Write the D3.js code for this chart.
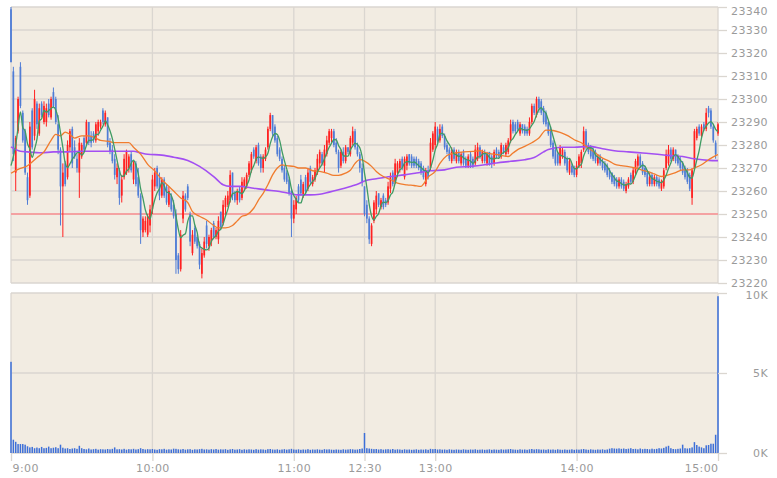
<!DOCTYPE html>
<html>
<head>
<meta charset="utf-8">
<script src="https://cdn.jsdelivr.net/npm/d3@7"></script>
<style>
  html, body { margin: 0; padding: 0; background: #ffffff; }
  svg { display: block; }
</style>
</head>
<body>
<svg id="chart" width="777" height="478"></svg>
<script>
// ---- Session axis (minute index: 9:00-11:30 = 0-150, 12:30-15:00 = 150-300) ----
const sessionTicks  = [0, 60, 120, 150, 180, 240, 300];
const sessionLabels = ["9:00", "10:00", "11:00", "12:30", "13:00", "14:00", "15:00"];

// ---- Price / volume ticks ----
const priceTicks  = [23220, 23230, 23240, 23250, 23260, 23270, 23280, 23290, 23300, 23310, 23320, 23330, 23340];
const volumeTicks = [0, 5000, 10000];
const volumeTickLabels = ["0K", "5K", "10K"];

// Previous session close (reference line)
const prevClose = 23250;
// Last closes of the previous session (seed for the 5-bar average)
const priorCloses = [23256, 23258, 23262, 23263];

// ---- One-minute bars: [open, high, low, close] ----
const candles = [
  [23339,23340,23316,23316],[23312,23314,23273,23276],[23268,23284,23260,23283],[23286,23301,23285,23300],[23314,23316,23296,23297],[23294,23295,23281,23282],[23286,23287,23267,23268],[23266,23268,23254,23256],[23258,23290,23257,23288],[23295,23296,23278,23279],
  [23284,23304,23282,23300],[23298,23299,23287,23289],[23285,23298,23284,23296],[23298,23299,23292,23293],[23290,23299,23289,23297],[23290,23298,23288,23296],[23298,23300,23292,23293],[23292,23301,23291,23300],[23303,23305,23296,23297],[23300,23301,23289,23290],
  [23289,23293,23276,23278],[23278,23279,23245,23262],[23262,23272,23240,23268],[23272,23273,23262,23263],[23266,23282,23265,23280],[23279,23287,23277,23286],[23287,23288,23270,23272],[23279,23282,23274,23275],[23274,23276,23268,23270],[23268,23283,23257,23281],
  [23275,23281,23274,23280],[23283,23284,23277,23278],[23281,23291,23280,23290],[23290,23290,23280,23281],[23284,23286,23279,23281],[23285,23286,23281,23282],[23282,23290,23281,23289],[23286,23291,23284,23290],[23288,23291,23287,23290],[23295,23296,23289,23290],
  [23289,23295,23288,23294],[23292,23292,23279,23280],[23281,23283,23276,23277],[23278,23280,23272,23273],[23274,23276,23265,23267],[23266,23272,23263,23270],[23269,23270,23254,23257],[23258,23267,23255,23265],[23266,23276,23265,23274],[23268,23278,23267,23277],
  [23270,23276,23268,23275],[23276,23277,23268,23269],[23265,23273,23263,23272],[23272,23273,23262,23263],[23266,23270,23257,23258],[23258,23259,23237,23243],[23242,23249,23240,23248],[23243,23249,23242,23247],[23241,23250,23240,23249],[23245,23254,23242,23252],
  [23252,23267,23250,23265],[23262,23270,23260,23268],[23270,23271,23261,23262],[23266,23268,23256,23258],[23258,23266,23257,23265],[23265,23266,23257,23258],[23262,23263,23254,23255],[23254,23262,23253,23260],[23258,23259,23251,23252],[23254,23256,23248,23249],
  [23250,23252,23224,23230],[23232,23233,23224,23226],[23226,23243,23225,23241],[23248,23260,23246,23258],[23258,23259,23251,23252],[23262,23263,23256,23257],[23250,23251,23236,23238],[23233,23243,23232,23241],[23244,23245,23237,23238],[23240,23241,23235,23236],
  [23237,23238,23226,23228],[23224,23235,23222,23233],[23232,23240,23231,23238],[23245,23247,23235,23237],[23236,23241,23234,23240],[23238,23244,23236,23243],[23246,23247,23239,23240],[23240,23244,23239,23243],[23239,23249,23237,23247],[23251,23251,23243,23244],
  [23246,23256,23245,23254],[23253,23258,23249,23257],[23254,23260,23253,23258],[23256,23269,23255,23267],[23268,23268,23256,23258],[23259,23260,23255,23256],[23256,23261,23254,23260],[23261,23262,23255,23256],[23257,23266,23256,23264],[23262,23266,23260,23265],
  [23262,23268,23261,23267],[23267,23273,23266,23272],[23269,23277,23268,23276],[23278,23279,23274,23275],[23273,23280,23272,23279],[23280,23281,23271,23272],[23275,23276,23268,23270],[23270,23276,23268,23275],[23274,23279,23273,23278],[23279,23288,23278,23287],
  [23287,23294,23286,23293],[23293,23293,23284,23285],[23288,23289,23281,23282],[23283,23284,23275,23276],[23278,23279,23273,23274],[23274,23275,23268,23269],[23270,23271,23264,23265],[23268,23269,23263,23264],[23265,23266,23258,23259],[23260,23261,23240,23248],
  [23248,23256,23246,23254],[23252,23258,23250,23257],[23262,23263,23255,23256],[23265,23267,23258,23259],[23258,23264,23257,23263],[23266,23267,23259,23260],[23261,23270,23260,23268],[23270,23271,23263,23264],[23263,23267,23262,23266],[23265,23270,23264,23269],
  [23268,23276,23267,23274],[23272,23278,23270,23277],[23276,23277,23271,23272],[23271,23280,23268,23278],[23276,23284,23275,23282],[23281,23287,23280,23286],[23283,23287,23281,23286],[23286,23287,23279,23280],[23281,23283,23276,23277],[23277,23278,23268,23270],
  [23271,23278,23270,23277],[23277,23279,23272,23273],[23273,23280,23272,23279],[23279,23279,23276,23277],[23276,23284,23275,23283],[23281,23288,23280,23286],[23286,23287,23278,23279],[23279,23281,23275,23276],[23276,23277,23268,23270],[23270,23272,23262,23264],
  [23262,23262,23249,23250],[23254,23256,23246,23248],[23248,23249,23237,23239],[23237,23246,23236,23245],[23247,23256,23246,23255],[23252,23260,23250,23258],[23259,23259,23253,23254],[23253,23257,23252,23256],[23258,23259,23252,23253],[23256,23257,23253,23254],
  [23255,23264,23254,23262],[23261,23268,23259,23266],[23268,23269,23262,23263],[23264,23274,23263,23272],[23268,23273,23266,23272],[23270,23274,23268,23273],[23274,23275,23269,23270],[23266,23275,23265,23274],[23271,23276,23269,23275],[23276,23276,23271,23272],
  [23275,23276,23270,23271],[23274,23275,23270,23271],[23274,23275,23270,23271],[23273,23274,23269,23270],[23272,23273,23267,23268],[23270,23271,23265,23266],[23263,23270,23262,23269],[23269,23271,23265,23266],[23270,23283,23269,23281],[23278,23286,23277,23285],
  [23280,23290,23278,23288],[23287,23288,23281,23282],[23282,23289,23281,23287],[23288,23289,23283,23284],[23284,23285,23278,23279],[23280,23281,23276,23277],[23278,23279,23273,23274],[23273,23279,23272,23277],[23278,23279,23273,23274],[23273,23278,23272,23277],
  [23277,23278,23272,23273],[23272,23277,23271,23276],[23277,23278,23271,23272],[23274,23275,23270,23271],[23271,23276,23270,23275],[23276,23277,23270,23271],[23274,23275,23270,23271],[23272,23280,23271,23278],[23274,23281,23273,23279],[23279,23280,23274,23275],
  [23273,23278,23272,23277],[23277,23278,23272,23273],[23272,23277,23271,23276],[23277,23277,23271,23272],[23275,23276,23270,23272],[23272,23278,23271,23277],[23278,23279,23274,23275],[23277,23278,23274,23275],[23275,23281,23274,23280],[23279,23280,23276,23277],
  [23276,23281,23275,23280],[23277,23283,23276,23282],[23282,23291,23281,23289],[23290,23291,23285,23286],[23289,23290,23285,23286],[23290,23291,23286,23287],[23285,23290,23284,23289],[23289,23289,23285,23286],[23288,23289,23284,23285],[23287,23288,23284,23285],
  [23285,23292,23284,23290],[23290,23298,23289,23297],[23297,23298,23293,23294],[23293,23301,23292,23300],[23300,23301,23294,23296],[23299,23300,23293,23294],[23296,23297,23289,23290],[23294,23295,23288,23289],[23290,23291,23284,23285],[23287,23288,23279,23280],
  [23281,23282,23274,23275],[23278,23279,23271,23272],[23276,23277,23271,23272],[23272,23280,23271,23279],[23275,23279,23274,23278],[23277,23278,23271,23272],[23274,23275,23268,23269],[23268,23274,23267,23273],[23271,23272,23267,23268],[23270,23271,23266,23267],
  [23267,23273,23266,23271],[23271,23276,23270,23275],[23272,23278,23270,23277],[23278,23288,23277,23286],[23286,23287,23278,23279],[23280,23281,23276,23277],[23279,23280,23274,23275],[23278,23279,23273,23274],[23277,23278,23272,23273],[23272,23276,23271,23275],
  [23275,23276,23271,23272],[23273,23274,23269,23270],[23272,23273,23268,23269],[23271,23272,23266,23267],[23269,23270,23265,23266],[23268,23268,23263,23264],[23266,23267,23262,23263],[23265,23266,23261,23262],[23262,23266,23261,23265],[23265,23266,23261,23262],
  [23264,23265,23260,23261],[23260,23264,23259,23263],[23262,23266,23261,23265],[23267,23268,23263,23264],[23264,23270,23263,23269],[23268,23274,23267,23273],[23271,23276,23270,23275],[23275,23276,23270,23271],[23272,23273,23267,23268],[23270,23271,23266,23267],
  [23268,23269,23262,23263],[23263,23268,23262,23266],[23267,23268,23262,23263],[23263,23267,23262,23266],[23266,23267,23262,23263],[23265,23266,23261,23262],[23261,23265,23260,23264],[23262,23270,23261,23269],[23270,23278,23269,23276],[23272,23280,23271,23278],
  [23278,23279,23273,23274],[23274,23279,23273,23278],[23278,23278,23272,23273],[23275,23276,23271,23272],[23274,23275,23269,23270],[23272,23273,23267,23268],[23270,23271,23265,23266],[23269,23270,23263,23264],[23267,23268,23260,23261],[23257,23270,23254,23269],
  [23270,23287,23269,23286],[23283,23288,23282,23287],[23288,23289,23284,23285],[23284,23289,23283,23288],[23289,23290,23286,23287],[23287,23296,23286,23294],[23296,23297,23292,23294],[23295,23296,23287,23288],[23288,23289,23281,23282],[23281,23282,23274,23276],
  [23285,23290,23284,23289]
];

// ---- Volume per bar ----
const volume = [
  5700, 830, 700, 560, 560, 560, 520, 420, 350, 380,
  300, 340, 300, 380, 300, 320, 400, 300, 330, 360,
  300, 520, 330, 280, 300, 250, 280, 300, 260, 450,
  300, 250, 230, 280, 220, 240, 260, 210, 240, 230,
  220, 250, 230, 260, 350, 230, 240, 220, 260, 210,
  240, 230, 260, 220, 240, 300, 250, 220, 240, 230,
  250, 220, 200, 240, 230, 260, 210, 230, 220, 270,
  260, 230, 220, 250, 210, 230, 240, 200, 230, 220,
  240, 260, 220, 230, 210, 240, 220, 250, 210, 230,
  220, 240, 200, 230, 250, 210, 220, 240, 200, 230,
  210, 230, 220, 200, 240, 210, 230, 220, 200, 240,
  250, 220, 210, 230, 200, 220, 240, 210, 230, 260,
  220, 210, 230, 200, 220, 210, 240, 200, 220, 210,
  230, 210, 200, 240, 220, 230, 210, 200, 220, 210,
  200, 230, 210, 220, 240, 230, 210, 220, 250, 280,
  1250, 300, 280, 260, 240, 250, 220, 240, 210, 230,
  240, 220, 250, 210, 230, 220, 200, 230, 210, 220,
  200, 210, 230, 200, 220, 210, 230, 200, 260, 240,
  250, 220, 230, 210, 220, 200, 230, 210, 200, 220,
  210, 200, 230, 210, 200, 220, 210, 230, 200, 210,
  220, 200, 210, 230, 200, 220, 210, 200, 230, 210,
  220, 230, 250, 220, 210, 200, 230, 210, 220, 200,
  230, 250, 220, 240, 230, 210, 220, 200, 230, 210,
  220, 200, 230, 210, 200, 220, 200, 210, 230, 200,
  220, 210, 230, 250, 220, 200, 230, 210, 200, 220,
  210, 230, 200, 220, 270, 300, 280, 270, 290, 260,
  280, 250, 270, 300, 250, 260, 230, 280, 240, 260,
  250, 230, 270, 240, 260, 300, 280, 320, 400, 450,
  300, 250, 240, 260, 280, 520, 300, 280, 300, 350,
  680, 500, 400, 350, 300, 480, 500, 580, 580, 1140,
  9800
];

// ---- 25-bar average (orange), sampled at bar indices ----
const ma25At = [0,3,7,11,14,17,19,21,23,25,27,30,33,36,38,41,44,47,50,52,55,58,61,64,67,69,72,75,77,80,83,86,88,91,94,96,98,100,103,105,107,109,111,113,115,117,120,122,125,128,131,134,137,139,142,144,146,148,150,153,155,158,161,164,168,171,174,175,177,180,182,185,188,192,196,199,202,205,208,211,213,215,218,221,224,227,230,233,236,239,242,245,248,251,254,256,259,262,265,268,271,273,276,279,282,285,288,290,293,296,299,300];
const ma25 = [23267.7,23269.4,23271,23274.5,23277,23282,23284.6,23284,23285.6,23284.6,23283,23284,23284,23283,23282,23281.7,23281,23281,23281,23279,23276,23271.6,23268.7,23265,23262,23260,23257,23255,23251,23249,23247.4,23245,23244,23244,23245,23247,23249,23249.6,23252.5,23256,23259,23262.7,23267,23270,23271.4,23271,23270.7,23270,23270,23268.8,23268.5,23267.8,23266.8,23266.8,23267.8,23269,23272,23273.6,23273,23270.7,23268.5,23266.3,23265,23263.4,23262.7,23262.4,23262,23263,23266,23268.5,23272,23275.4,23276.5,23277,23277.2,23277.5,23276.5,23276,23275.5,23275,23276.5,23278,23279.4,23281,23283,23286.5,23286.3,23285.5,23284.2,23282.3,23281,23278.7,23276.5,23274.3,23272.9,23271.7,23271,23270.6,23270,23269,23268.2,23267.4,23266.3,23267,23268,23269.2,23269.2,23270,23271.4,23273.6,23275.4,23275.8];

// ---- 75-bar average (purple), sampled at bar indices ----
const ma75At = [0,4,7,13,18,24,30,41,52,55,58,64,69,75,80,86,90,93,97,103,108,114,118,122,127,131,135,139,144,148,150,155,161,167,172,178,184,189,195,201,206,212,218,222,226,228,234,239,245,251,256,262,268,273,279,285,290,296,300];
const ma75 = [23279.2,23277.3,23277,23276.6,23277,23277,23277.3,23277.3,23277.3,23276.6,23276,23275.6,23274.7,23273.3,23270.7,23266.3,23262.7,23262,23262,23261.2,23260.5,23259.8,23259,23258.3,23258.3,23258.6,23259.5,23260.5,23262,23263.4,23264.4,23265.3,23266.3,23267,23267.8,23268.8,23269.2,23270.3,23270.7,23271.4,23272.2,23272.9,23273.6,23274.6,23277,23278,23279,23279,23279.4,23278.4,23277.5,23277,23276.5,23276.1,23275.5,23275,23274,23273.3,23273.2];

// ---- Styling ----
const PANEL_BG = "#f2ece2";
const GRID = "#dad6d0";
const UP = "#ff2121";
const DOWN = "#4f7cd6";
const VOL = "#3d6fd8";
const TEXT = "#9a9a9a";
const FONT = "'DejaVu Sans', Verdana, sans-serif";

// ---- Layout ----
const X0 = 11, X1 = 718;
const PT = 7, PB = 283;      // price panel
const VT = 293, VB = 453;    // volume panel

const svg = d3.select("#chart");

const x  = d3.scaleLinear().domain([0, 300]).range([X0, X1]);
const y  = d3.scaleLinear().domain([23220, 23340]).range([PB, PT]);
const yv = d3.scaleLinear().domain([0, 10000]).range([VB, VT]);

// Panel backgrounds
svg.append("rect").attr("x", X0).attr("y", PT).attr("width", X1 - X0).attr("height", PB - PT).attr("fill", PANEL_BG);
svg.append("rect").attr("x", X0).attr("y", VT).attr("width", X1 - X0).attr("height", VB - VT).attr("fill", PANEL_BG);

// Clip regions
const defs = svg.append("defs");
defs.append("clipPath").attr("id", "clip-price").append("rect")
  .attr("x", X0 - 2).attr("y", PT).attr("width", X1 - X0 + 4).attr("height", PB - PT);

// Grid
const grid = svg.append("g").attr("stroke", GRID).attr("stroke-width", 1.3).attr("fill", "none");
grid.selectAll("line.hp").data(priceTicks).join("line").attr("class", "hp")
  .attr("x1", X0).attr("x2", X1).attr("y1", d => y(d)).attr("y2", d => y(d));
grid.selectAll("line.hv").data(volumeTicks).join("line").attr("class", "hv")
  .attr("x1", X0).attr("x2", X1).attr("y1", d => yv(d)).attr("y2", d => yv(d));
grid.selectAll("line.vp").data(sessionTicks).join("line").attr("class", "vp")
  .attr("x1", d => x(d)).attr("x2", d => x(d)).attr("y1", PT).attr("y2", PB);
grid.selectAll("line.vv").data(sessionTicks).join("line").attr("class", "vv")
  .attr("x1", d => x(d)).attr("x2", d => x(d)).attr("y1", VT).attr("y2", VB);

// Previous close line
svg.append("line").attr("x1", X0).attr("x2", X1)
  .attr("y1", y(prevClose)).attr("y2", y(prevClose))
  .attr("stroke", "#f4a2a2").attr("stroke-width", 2);

// Candles
const bars = candles.map((c, i) => ({ i, o: c[0], h: c[1], l: c[2], c: c[3] }));
const cg = svg.append("g").attr("clip-path", "url(#clip-price)");
cg.selectAll("line.wick").data(bars).join("line").attr("class", "wick")
  .attr("x1", d => x(d.i)).attr("x2", d => x(d.i))
  .attr("y1", d => y(d.h)).attr("y2", d => y(d.l))
  .attr("stroke", d => d.c >= d.o ? UP : DOWN).attr("stroke-width", 1);
cg.selectAll("rect.body").data(bars).join("rect").attr("class", "body")
  .attr("x", d => x(d.i) - 0.85).attr("width", 1.7)
  .attr("y", d => y(Math.max(d.o, d.c)))
  .attr("height", d => Math.max(1, Math.abs(y(d.o) - y(d.c))))
  .attr("fill", d => d.c >= d.o ? UP : DOWN);

// Moving averages
const closes = candles.map(c => c[3]);
const seeded = priorCloses.concat(closes);
const ma5 = closes.map((_, i) => d3.mean(seeded.slice(i, i + 5)));

const lineIdx = d3.line().x((d, i) => x(i)).y(d => y(d)).curve(d3.curveMonotoneX);
const lineAt = d3.line().x(d => x(d[0])).y(d => y(d[1])).curve(d3.curveMonotoneX);

const mg = svg.append("g").attr("clip-path", "url(#clip-price)").attr("fill", "none");
mg.append("path").attr("d", lineAt(d3.zip(ma75At, ma75))).attr("stroke", "#a34ff2").attr("stroke-width", 1.6);
mg.append("path").attr("d", lineAt(d3.zip(ma25At, ma25))).attr("stroke", "#f07c2e").attr("stroke-width", 1.3);
mg.append("path").attr("d", lineIdx(ma5)).attr("stroke", "#3f9b63").attr("stroke-width", 1.3);

// Volume bars
svg.append("g").selectAll("rect").data(volume).join("rect")
  .attr("x", (d, i) => x(i) - 0.75).attr("width", 1.5)
  .attr("y", d => yv(d)).attr("height", d => VB - yv(d))
  .attr("fill", VOL);

// Right price axis
const ay = svg.append("g").attr("transform", `translate(${X1},0)`)
  .call(d3.axisRight(y).tickValues(priceTicks).tickSize(9).tickFormat(d3.format("d")));
ay.select(".domain").remove();
ay.selectAll(".tick line").attr("stroke", GRID).attr("stroke-width", 1.3);
ay.selectAll(".tick text").attr("x", 50).attr("text-anchor", "end")
  .attr("fill", TEXT).attr("font-family", FONT).attr("font-size", 11).attr("letter-spacing", "0.4px")
  .attr("dy", d => d === 23340 ? "0.65em" : "0.36em");

// Right volume axis
const av = svg.append("g").attr("transform", `translate(${X1},0)`)
  .call(d3.axisRight(yv).tickValues(volumeTicks).tickSize(9).tickFormat((d, i) => volumeTickLabels[i]));
av.select(".domain").remove();
av.selectAll(".tick line").attr("stroke", GRID).attr("stroke-width", 1.3);
av.selectAll(".tick text").attr("x", 50).attr("text-anchor", "end")
  .attr("fill", TEXT).attr("font-family", FONT).attr("font-size", 11).attr("letter-spacing", "0.4px")
  .attr("dy", d => d === 10000 ? "0.5em" : "0.36em");

// Time axis
const ax = svg.append("g").attr("transform", `translate(0,${VB})`)
  .call(d3.axisBottom(x).tickValues(sessionTicks).tickSize(8).tickFormat((d, i) => sessionLabels[i]));
ax.select(".domain").remove();
ax.selectAll(".tick line").attr("stroke", GRID).attr("stroke-width", 1.3);
ax.selectAll(".tick text")
  .attr("fill", TEXT).attr("font-family", FONT).attr("font-size", 11).attr("letter-spacing", "0.4px")
  .attr("text-anchor", (d, i) => i === 0 ? "start" : (i === sessionTicks.length - 1 ? "end" : "middle"))
  .attr("x", (d, i) => i === 0 ? 1 : 0);
</script>
</body>
</html>
